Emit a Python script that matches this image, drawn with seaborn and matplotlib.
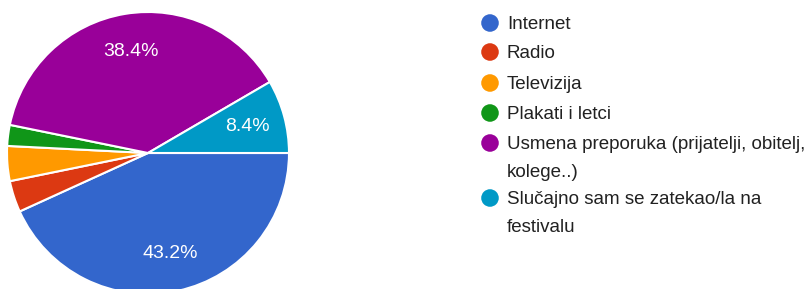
import matplotlib
matplotlib.use("Agg")
import matplotlib.pyplot as plt
import seaborn as sns

categories = [
    "Internet",
    "Radio",
    "Televizija",
    "Plakati i letci",
    "Usmena preporuka (prijatelji, obitelj,\nkolege..)",
    "Slučajno sam se zatekao/la na\nfestivalu",
]
shares = [43.2, 3.6, 4.0, 2.4, 38.4, 8.4]
colors = ["#3366cc", "#dc3912", "#ff9900", "#109618", "#990099", "#0099c6"]

sns.set_theme(style="white")
plt.rcParams["font.family"] = ["Liberation Sans", "DejaVu Sans"]

W, H = 806, 289
fig = plt.figure(figsize=(W / 100, H / 100), dpi=100)
fig.patch.set_facecolor("white")

# pie axes placed in pixel terms: centre (148, 153), radius 141
cx, cy, r = 148, 153, 141
ax = fig.add_axes([(cx - r) / W, (H - cy - r) / H, 2 * r / W, 2 * r / H])
ax.pie(
    shares,
    colors=colors,
    startangle=0,
    counterclock=False,
    autopct=lambda p: f"{p:.1f}%" if p > 5 else "",
    pctdistance=0.73,
    wedgeprops={"edgecolor": "white", "linewidth": 1.5},
    textprops={"color": "white", "fontsize": 14},
)
ax.set_xlim(-1, 1)
ax.set_ylim(-1, 1)
ax.set_aspect("equal")
ax.axis("off")
for p in ax.patches:
    p.set_clip_on(False)

# legend drawn on an overlay axis in pixel coordinates
lg = fig.add_axes([0, 0, 1, 1])
lg.set_xlim(0, W)
lg.set_ylim(H, 0)
lg.axis("off")
ys = [23, 52, 83, 113, 143, 198]
for label, col, y in zip(categories, colors, ys):
    lg.scatter([490], [y], s=160, color=col, edgecolors="none")
    lg.text(507, y - 7, label, fontsize=13.5, color="#212121", va="top",
            linespacing=1.85)

fig.savefig("out.png", dpi=100, facecolor="white")
